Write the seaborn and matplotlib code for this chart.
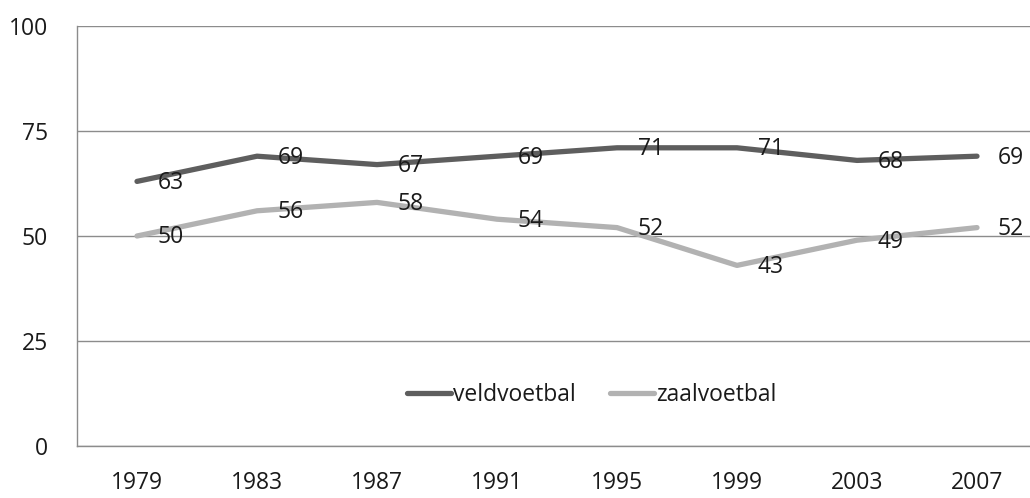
import matplotlib
matplotlib.use("Agg")
import matplotlib.pyplot as plt
import seaborn as sns
import pandas as pd
from matplotlib.ticker import FixedLocator

# Data
years = ["1979", "1983", "1987", "1991", "1995", "1999", "2003", "2007"]
veldvoetbal = [63, 69, 67, 69, 71, 71, 68, 69]
zaalvoetbal = [50, 56, 58, 54, 52, 43, 49, 52]
series_names = ["veldvoetbal", "zaalvoetbal"]
colors = {"veldvoetbal": "#5e5e5e", "zaalvoetbal": "#b2b2b2"}

# Long-form frame for seaborn
df = pd.DataFrame({
    "pos": list(range(len(years))) * 2,
    "jaar": years * 2,
    "waarde": veldvoetbal + zaalvoetbal,
    "serie": [series_names[0]] * len(years) + [series_names[1]] * len(years),
})

sns.set_style("white")
plt.rcParams["font.family"] = ["Open Sans", "DejaVu Sans"]
FS = 16.5

fig = plt.figure(figsize=(10.30, 4.98), dpi=100)
ax = fig.add_axes([77 / 1030, 52 / 498, 960 / 1030, 420 / 498])

sns.lineplot(data=df, x="pos", y="waarde", hue="serie", palette=colors,
             linewidth=3.8, ax=ax, legend=False, solid_capstyle="round")

# value labels to the right of each point
for name, vals in [("veldvoetbal", veldvoetbal), ("zaalvoetbal", zaalvoetbal)]:
    for i, v in enumerate(vals):
        ax.annotate(str(v), (i, v), xytext=(15, -1), textcoords="offset points",
                    ha="left", va="center", fontsize=FS, color="#1a1a1a")

ax.set_xlim(-0.5, len(years) - 0.5)
ax.set_ylim(0, 100)
ax.set_yticks([0, 25, 50, 75, 100])
ax.set_xticks(range(len(years)))
ax.set_xticklabels(years)
ax.xaxis.set_minor_locator(FixedLocator([i - 0.5 for i in range(len(years))]))
ax.tick_params(axis="x", which="major", length=0, pad=18, labelsize=FS, labelcolor="#1a1a1a")
ax.tick_params(axis="x", which="minor", length=7, width=1, color="#8c8c8c", direction="out")
ax.tick_params(axis="y", length=9, width=1, color="#8c8c8c", pad=12, labelsize=FS,
               labelcolor="#1a1a1a", direction="out")
ax.set_xlabel("")
ax.set_ylabel("")

ax.grid(axis="y", color="#8c8c8c", linewidth=1)
ax.set_axisbelow(True)
for side in ["top", "right"]:
    ax.spines[side].set_visible(False)
for side in ["left", "bottom"]:
    ax.spines[side].set_color("#8c8c8c")
    ax.spines[side].set_linewidth(1)

handles = [plt.Line2D([], [], color=colors[n], linewidth=3.8) for n in series_names]
fig.legend(handles, series_names, loc="center", bbox_to_anchor=(592 / 1030, 1 - 395 / 498),
           ncol=2, frameon=False, fontsize=FS, handlelength=1.9, handletextpad=0.1,
           columnspacing=1.5, labelcolor="#1a1a1a")

fig.savefig("out.png", dpi=100)
